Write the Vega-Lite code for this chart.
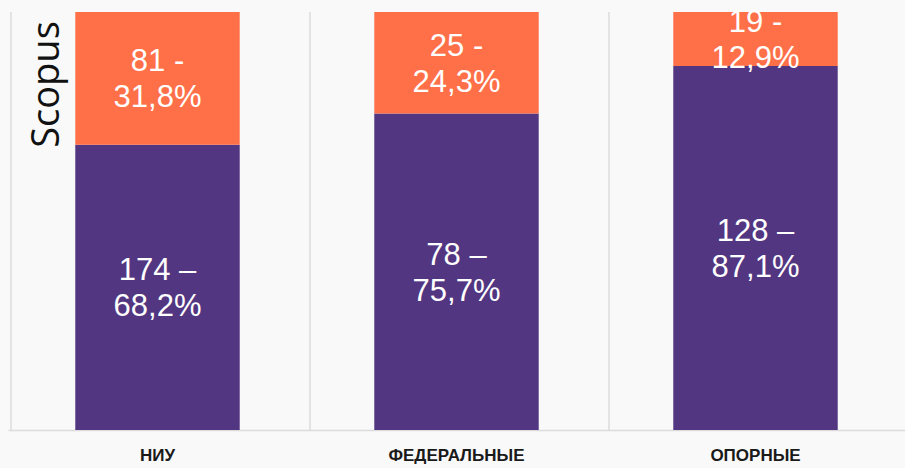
{
  "$schema": "https://vega.github.io/schema/vega-lite/v6.json",
  "width": 897,
  "height": 418,
  "autosize": {"type": "none"},
  "padding": {"left": 8, "top": 12, "right": 0, "bottom": 38},
  "background": "#f9f9f9",
  "config": {"view": {"stroke": null}},
  "data": {
    "values": [
      {"cat": "НИУ", "series": "A", "ord": 1, "value": 174, "label": "174 –\n68,2%"},
      {"cat": "НИУ", "series": "B", "ord": 2, "value": 81, "label": "81 -\n31,8%"},
      {"cat": "ФЕДЕРАЛЬНЫЕ", "series": "A", "ord": 1, "value": 78, "label": "78 –\n75,7%"},
      {"cat": "ФЕДЕРАЛЬНЫЕ", "series": "B", "ord": 2, "value": 25, "label": "25 -\n24,3%"},
      {"cat": "ОПОРНЫЕ", "series": "A", "ord": 1, "value": 128, "label": "128 –\n87,1%"},
      {"cat": "ОПОРНЫЕ", "series": "B", "ord": 2, "value": 19, "label": "19 -\n12,9%"}
    ]
  },
  "transform": [
    {"stack": "value", "groupby": ["cat"], "sort": [{"field": "ord"}], "offset": "normalize", "as": ["y0", "y1"]},
    {"calculate": "(datum.y0 + datum.y1) / 2", "as": "mid"}
  ],
  "encoding": {
    "x": {
      "field": "cat",
      "type": "nominal",
      "sort": ["НИУ", "ФЕДЕРАЛЬНЫЕ", "ОПОРНЫЕ"],
      "scale": {"paddingInner": 0.45, "paddingOuter": 0.225},
      "axis": {
        "title": null,
        "labelAngle": 0,
        "grid": false,
        "ticks": false,
        "domain": true,
        "domainColor": "#dcdcdc",
        "domainWidth": 1.5,
        "labelFont": "Liberation Sans",
        "labelFontWeight": "bold",
        "labelFontSize": 17,
        "labelColor": "#1a1a1a",
        "labelPadding": 25,
        "labelBaseline": "middle"
      }
    }
  },
  "layer": [
    {
      "transform": [{"filter": "datum.series == 'A'"}],
      "mark": {"type": "rule", "color": "#dcdcdc", "strokeWidth": 1.5},
      "encoding": {
        "x": {"field": "cat", "type": "nominal", "sort": ["НИУ", "ФЕДЕРАЛЬНЫЕ", "ОПОРНЫЕ"], "bandPosition": -0.3909}
      }
    },
    {
      "mark": {"type": "bar"},
      "encoding": {
        "y": {
          "field": "y0",
          "type": "quantitative",
          "scale": {"domain": [0, 1], "nice": false},
          "axis": {
            "title": "Scopus",
            "labels": false,
            "ticks": false,
            "domain": false,
            "grid": false,
            "titleFont": "Open Sans",
            "titleFontSize": 38,
            "titleFontWeight": "normal",
            "titleColor": "#111111",
            "titleAngle": 270,
            "titleX": 39,
            "titleY": 72,
            "titleAlign": "center",
            "titleBaseline": "middle"
          }
        },
        "y2": {"field": "y1"},
        "color": {
          "field": "series",
          "type": "nominal",
          "scale": {"domain": ["A", "B"], "range": ["#523681", "#ff7049"]},
          "legend": null
        }
      }
    },
    {
      "mark": {
        "type": "text",
        "color": "#ffffff",
        "font": "Liberation Sans",
        "fontSize": 31,
        "lineHeight": 36,
        "lineBreak": "\n",
        "align": "center",
        "baseline": "middle",
        "dy": -16
      },
      "encoding": {
        "y": {"field": "mid", "type": "quantitative"},
        "text": {"field": "label"}
      }
    }
  ]
}
